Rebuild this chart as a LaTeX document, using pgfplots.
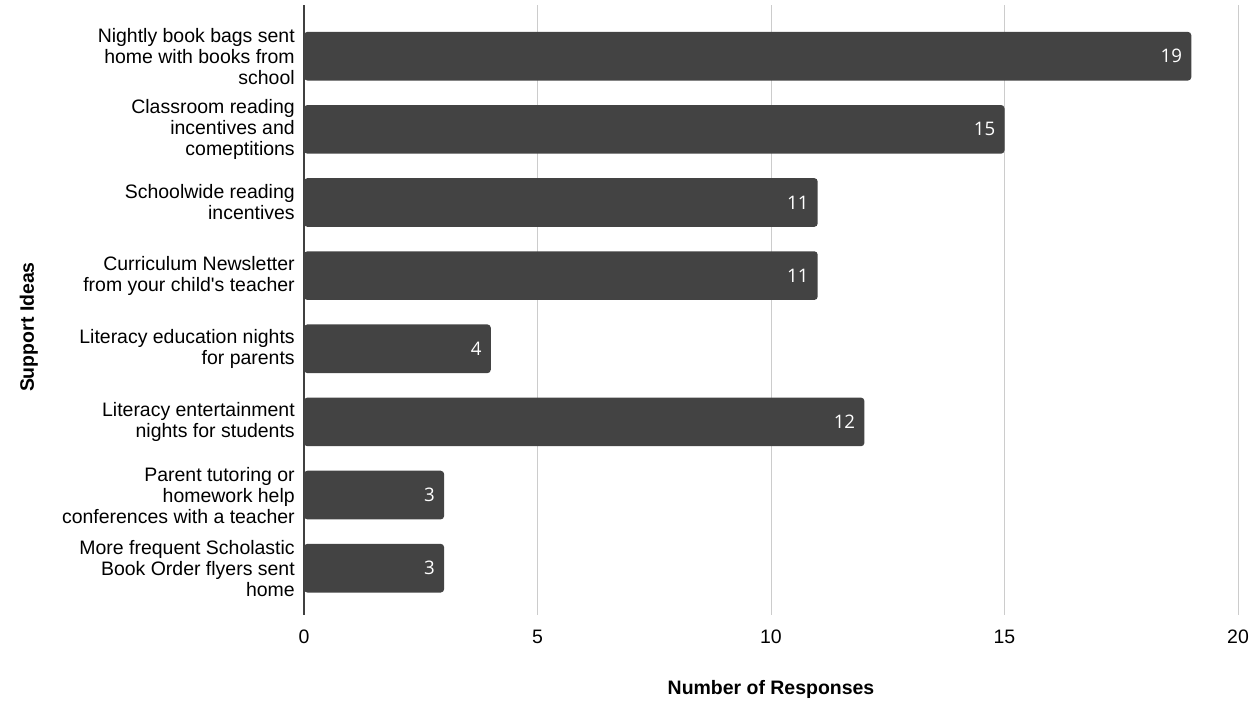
\documentclass[border=0pt]{standalone}
\usepackage{pgfplots}
\pgfplotsset{compat=1.18}
\usepackage{fontspec}
\setmainfont{Liberation Sans}
\newfontfamily\labfont{Open Sans}
\definecolor{barc}{HTML}{434343}
\definecolor{gridc}{HTML}{CCCCCC}
\begin{document}
\begin{tikzpicture}
\useasboundingbox (-228pt,-66.75pt) rectangle (717pt,461.25pt);
\begin{axis}[
  at={(0,0)}, anchor=south west,
  scale only axis,
  width=700.5pt, height=457.5pt,
  xbar, bar width=0.665,
  xmin=0, xmax=20,
  ymin=-0.70, ymax=7.64,
  y dir=reverse,
  ytick={0,...,7},
  yticklabels={{Nightly book bags sent\\home with books from\\school},
    {Classroom reading\\incentives and\\comeptitions},
    {Schoolwide reading\\incentives},
    {Curriculum Newsletter\\from your child\textquotesingle s teacher},
    {Literacy education nights\\for parents},
    {Literacy entertainment\\nights for students},
    {Parent tutoring or\\homework help\\conferences with a teacher},
    {More frequent Scholastic\\Book Order flyers sent\\home}},
  xtick={0,5,10,15,20},
  /pgf/number format/assume math mode=true,
  tick style={draw=none},
  major tick length=0pt,
  xmajorgrids,
  grid style={gridc, line width=0.75pt},
  axis y line*=left, axis x line*=bottom,
  x axis line style={draw=none},
  y axis line style={draw=black!75, line width=0.9pt},
  yticklabel style={font=\fontsize{14.6}{15.75}\selectfont, align=right, anchor=east, inner sep=0pt, xshift=-6.75pt},
  xticklabel style={font=\fontsize{14.6}{15.75}\selectfont, anchor=center, inner sep=0pt, yshift=-16.5pt},
  xlabel={\bfseries Number of Responses},
  ylabel={\bfseries Support Ideas},
  xlabel style={font=\fontsize{14.6}{16}\selectfont, at={(axis description cs:0.5,-0.1213)}, anchor=center},
  ylabel style={font=\fontsize{14.6}{16}\selectfont, at={(axis description cs:-0.2945,0.472)}, anchor=center},
  nodes near coords,
  every node near coord/.append style={anchor=east, text=white, font=\labfont\fontsize{14}{15}\selectfont, inner sep=0pt, xshift=-6.75pt},
]
\addplot[fill=barc, draw=none, rounded corners=2.5pt] coordinates {
  (19,0) (15,1) (11,2) (11,3) (4,4) (12,5) (3,6) (3,7)
};
\end{axis}
\end{tikzpicture}
\end{document}
